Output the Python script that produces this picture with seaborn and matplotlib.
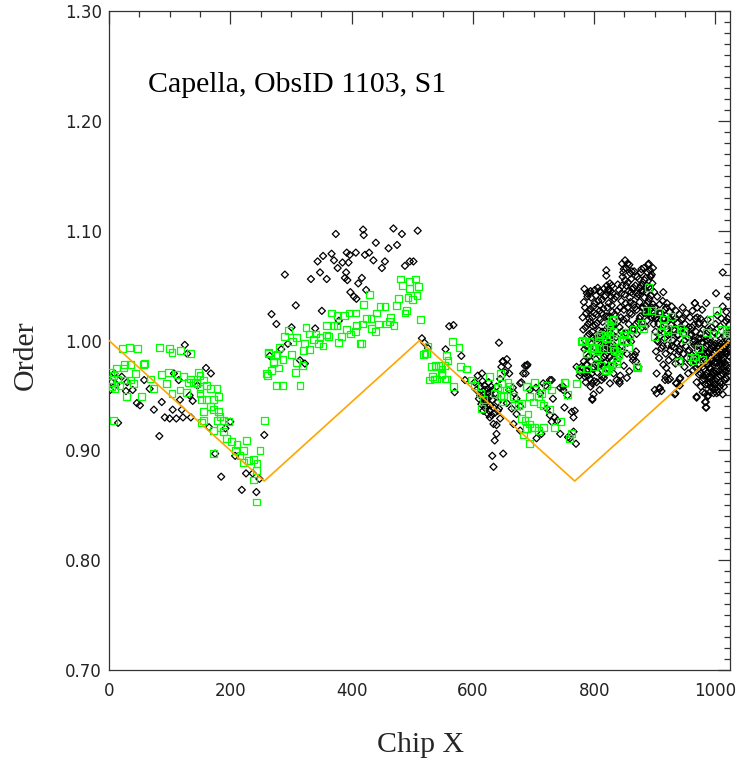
import numpy as np
import pandas as pd
import matplotlib
matplotlib.use("Agg")
import matplotlib.pyplot as plt
import seaborn as sns
from matplotlib.ticker import MultipleLocator, FormatStrFormatter

# ==========================================
# DATA
# ==========================================

# fold-over "expected" order curve
curve_x = [0, 256, 512, 768, 1024]
curve_y = [1.000, 0.872, 1.000, 0.872, 1.000]

# green squares, left node (0-260)
green_left = [
    (22, 0.993), (34, 0.994), (47, 0.993), (83, 0.994), (100, 0.993), (104, 0.989),
    (118, 0.991), (134, 0.988), (59, 0.979), (57, 0.978), (35, 0.978), (25, 0.978),
    (24, 0.975), (7, 0.968), (15, 0.965), (26, 0.964), (35, 0.964), (40, 0.961),
    (18, 0.959), (10, 0.956), (29, 0.949), (54, 0.949), (68, 0.965), (87, 0.969),
    (98, 0.971), (112, 0.969), (123, 0.967), (134, 0.965), (148, 0.971), (150, 0.968),
    (139, 0.962), (131, 0.962), (145, 0.961), (156, 0.964), (161, 0.959), (167, 0.956),
    (150, 0.956), (73, 0.956), (95, 0.961), (104, 0.952), (117, 0.955), (128, 0.953),
    (150, 0.952), (153, 0.946), (161, 0.946), (172, 0.946), (178, 0.956), (180, 0.949),
    (167, 0.940), (156, 0.935), (172, 0.937), (180, 0.935), (183, 0.931), (178, 0.927),
    (189, 0.927), (197, 0.926), (183, 0.921), (172, 0.918), (189, 0.917), (156, 0.927),
    (153, 0.925), (194, 0.911), (202, 0.908), (211, 0.905), (222, 0.900), (227, 0.909),
    (208, 0.900), (216, 0.895), (222, 0.889), (230, 0.891), (238, 0.892), (244, 0.888),
    (249, 0.900), (243, 0.882), (238, 0.873), (243, 0.853), (257, 0.927), (7, 0.927),
    (172, 0.897), (2, 0.962), (3, 0.971), (5, 0.958), (12, 0.975), (44, 0.970),
]

# green squares, rising branch (260-520)
green_mid = [
    (260, 0.970), (263, 0.988), (271, 0.981), (277, 0.987), (481, 1.056), (496, 1.054),
    (506, 1.056), (484, 1.050), (495, 1.047), (510, 1.049), (477, 1.038), (493, 1.039),
    (501, 1.037), (508, 1.041), (474, 1.032), (429, 1.042), (420, 1.033), (447, 1.031),
    (455, 1.031), (488, 1.025), (491, 1.027), (514, 1.019), (367, 1.025), (376, 1.023),
    (396, 1.025), (388, 1.023), (406, 1.025), (424, 1.020), (432, 1.020), (441, 1.025),
    (444, 1.015), (458, 1.015), (464, 1.021), (470, 1.014), (462, 1.017), (359, 1.014),
    (371, 1.014), (376, 1.014), (408, 1.014), (418, 1.015), (433, 1.011), (439, 1.008),
    (325, 1.012), (341, 1.006), (358, 1.005), (392, 1.010), (398, 1.006), (407, 1.008),
    (384, 1.004), (331, 1.006), (289, 1.004), (296, 1.009), (309, 1.003), (337, 1.001),
    (348, 1.003), (362, 1.004), (302, 0.999), (281, 0.994), (323, 0.997), (345, 0.997),
    (353, 0.995), (331, 0.992), (321, 0.991), (379, 0.998), (414, 0.997), (417, 0.997),
    (263, 0.989), (274, 0.986), (287, 0.983), (301, 0.987), (271, 0.980), (279, 0.975),
    (309, 0.980), (319, 0.977), (307, 0.971), (268, 0.973), (261, 0.968), (276, 0.959),
    (286, 0.959), (315, 0.959),
]

# green squares, falling branch (515-780)
green_fall = [
    (518, 0.987), (524, 0.988), (521, 0.988), (526, 0.995), (532, 0.976), (538, 0.977),
    (549, 0.974), (554, 0.977), (529, 0.964), (540, 0.965), (554, 0.965), (549, 0.970),
    (566, 0.999), (577, 0.994), (557, 0.986), (559, 0.982), (539, 0.976), (546, 0.977),
    (533, 0.967), (537, 0.965), (548, 0.969), (556, 0.965), (568, 0.958), (579, 0.976),
    (590, 0.974), (597, 0.964), (603, 0.959), (612, 0.952), (617, 0.946), (614, 0.938),
    (627, 0.967), (646, 0.970), (647, 0.961), (656, 0.955), (661, 0.958), (667, 0.949),
    (669, 0.941), (680, 0.943), (689, 0.958), (702, 0.962), (694, 0.949), (700, 0.944),
    (708, 0.949), (713, 0.952), (722, 0.959), (730, 0.955), (716, 0.941), (711, 0.943),
    (727, 0.937), (680, 0.929), (686, 0.927), (694, 0.924), (689, 0.920), (697, 0.921),
    (702, 0.921), (708, 0.918), (716, 0.921), (735, 0.921), (744, 0.926), (683, 0.914),
    (694, 0.906), (763, 0.915), (760, 0.911), (752, 0.962), (756, 0.951), (771, 0.961),
    (645, 0.949), (649, 0.944), (651, 0.950), (675, 0.941), (691, 0.933), (658, 0.962),
    (689, 0.958), (751, 0.962), (777, 0.974), (636, 0.952), (640, 0.957),
]

# green squares, right node (775-1024)
green_right = [
    (779, 0.999), (793, 0.999), (801, 0.994), (788, 0.988), (807, 1.004), (777, 0.974),
    (788, 0.974), (801, 0.976), (810, 0.977), (823, 0.974), (829, 0.977), (837, 0.979),
    (826, 1.014), (832, 1.019), (818, 1.005), (825, 1.003), (807, 0.999), (799, 0.994),
    (815, 0.993), (834, 0.991), (820, 0.973), (889, 1.048), (886, 1.027), (895, 1.027),
    (906, 1.026), (928, 1.022), (914, 1.019), (914, 1.014), (878, 1.016), (881, 1.011),
    (864, 1.010), (910, 1.008), (900, 1.004), (921, 1.003), (921, 1.011), (933, 1.010),
    (942, 1.011), (947, 1.008), (951, 1.001), (972, 0.993), (958, 0.985), (966, 0.985),
    (979, 0.983), (939, 0.981), (963, 0.982), (1002, 1.027), (991, 1.019), (985, 1.007),
    (996, 1.006), (1010, 1.010), (1018, 1.010), (851, 1.007), (848, 1.005), (859, 1.005),
    (853, 0.999), (832, 1.008), (829, 1.018), (823, 1.015), (826, 1.011), (811, 1.006),
    (820, 1.002), (837, 1.000), (845, 1.000), (856, 0.994), (842, 0.994), (832, 0.993),
    (837, 0.990), (841, 0.987), (809, 0.993), (804, 0.993), (804, 0.985), (796, 0.993),
    (793, 0.999), (785, 0.999), (781, 1.000), (788, 0.988), (819, 0.973), (837, 0.982),
    (870, 0.976), (776, 0.974), (1018, 1.006), (1022, 1.008), (871, 0.975), (818, 0.973),
]

# black diamonds, left node (0-270)
black_left = [
    (125, 0.996), (129, 0.988), (160, 0.975), (168, 0.970), (4, 0.962), (21, 0.967),
    (28, 0.954), (39, 0.955), (58, 0.964), (67, 0.956), (46, 0.943), (51, 0.941),
    (87, 0.944), (74, 0.937), (92, 0.930), (100, 0.929), (111, 0.929), (105, 0.937),
    (120, 0.937), (122, 0.930), (135, 0.930), (115, 0.964), (107, 0.970), (146, 0.959),
    (133, 0.950), (138, 0.945), (117, 0.946), (15, 0.925), (83, 0.913), (165, 0.921),
    (192, 0.920), (200, 0.926), (256, 0.914), (175, 0.897), (208, 0.895), (226, 0.879),
    (237, 0.879), (248, 0.874), (185, 0.876), (219, 0.864), (243, 0.862), (2, 0.955),
    (9, 0.970), (12, 0.960), (30, 0.962), (265, 0.986),
]

# black diamonds, rising branch (265-520)
black_mid = [
    (374, 1.097), (419, 1.101), (420, 1.096), (469, 1.102), (483, 1.097), (509, 1.100),
    (440, 1.089), (475, 1.087), (461, 1.084), (367, 1.079), (353, 1.077), (392, 1.080),
    (397, 1.078), (407, 1.080), (429, 1.080), (422, 1.078), (344, 1.072), (371, 1.073),
    (385, 1.071), (395, 1.071), (436, 1.073), (455, 1.072), (496, 1.072), (502, 1.072),
    (488, 1.068), (450, 1.066), (377, 1.066), (391, 1.062), (348, 1.062), (359, 1.056),
    (333, 1.056), (389, 1.057), (393, 1.055), (417, 1.057), (411, 1.052), (290, 1.060),
    (398, 1.044), (404, 1.040), (408, 1.038), (424, 1.046), (308, 1.032), (268, 1.024),
    (276, 1.015), (351, 1.027), (379, 1.018), (301, 1.012), (340, 1.011), (295, 0.997),
    (315, 0.982), (323, 0.979), (284, 0.992), (516, 1.002),
]

# black diamonds, falling branch (515-780)
black_fall = [
    (561, 1.013), (568, 1.014), (555, 0.992), (581, 0.986), (520, 0.998), (526, 0.993),
    (587, 0.964), (570, 0.953), (643, 0.998), (656, 0.983), (649, 0.981), (647, 0.976),
    (658, 0.977), (686, 0.977), (690, 0.978), (687, 0.970), (678, 0.961), (645, 0.965),
    (639, 0.958), (625, 0.956), (716, 0.961), (730, 0.964), (749, 0.958), (771, 0.976),
    (779, 0.976), (777, 0.971), (785, 0.970), (650, 0.981), (653, 0.971), (660, 0.970),
    (689, 0.977), (683, 0.970), (680, 0.962), (660, 0.955), (666, 0.957), (668, 0.952),
    (672, 0.947), (656, 0.943), (664, 0.938), (678, 0.940), (672, 0.933), (694, 0.955),
    (704, 0.957), (711, 0.952), (720, 0.959), (727, 0.964), (732, 0.947), (744, 0.957),
    (749, 0.955), (756, 0.950), (722, 0.938), (727, 0.932), (730, 0.926), (735, 0.930),
    (739, 0.927), (751, 0.939), (763, 0.935), (768, 0.936), (766, 0.930), (744, 0.915),
    (757, 0.912), (760, 0.911), (766, 0.917), (770, 0.906), (713, 0.915), (705, 0.911),
    (678, 0.918), (667, 0.924), (788, 0.973), (799, 0.976), (797, 0.947),
    # dense knot near x ~ 620
    (603, 0.962), (606, 0.955), (608, 0.968), (610, 0.947), (612, 0.958), (614, 0.942),
    (616, 0.963), (618, 0.951), (619, 0.959), (620, 0.955), (622, 0.945), (623, 0.941),
    (625, 0.952), (625, 0.933), (627, 0.936), (628, 0.949), (630, 0.958), (631, 0.932),
    (632, 0.946), (634, 0.939), (634, 0.924), (636, 0.909), (637, 0.952), (639, 0.923),
    (639, 0.915), (641, 0.944), (643, 0.938), (645, 0.929), (632, 0.895), (650, 0.897),
    (634, 0.885), (615, 0.970), (621, 0.938), (626, 0.962), (629, 0.941), (633, 0.955),
    (617, 0.936), (612, 0.950), (624, 0.947), (636, 0.934), (628, 0.930), (620, 0.948),
    (641, 0.936), (618, 0.943),
]

# black diamonds, right node (780-1024), first pass
black_right = [
    (781, 1.021), (783, 1.035), (784, 0.992), (786, 1.012), (787, 0.978), (788, 1.043),
    (789, 1.004), (790, 0.968), (791, 1.027), (792, 0.986), (793, 1.017), (794, 0.958),
    (795, 1.039), (796, 0.997), (797, 1.008), (798, 0.974), (799, 1.031), (800, 0.963),
    (801, 1.046), (802, 1.014), (803, 0.983), (804, 1.024), (805, 0.971), (806, 1.002),
    (807, 1.036), (808, 0.990), (809, 0.955), (810, 1.019), (811, 1.044), (812, 0.979),
    (813, 1.008), (814, 0.995), (815, 1.029), (816, 0.966), (817, 1.040), (818, 1.001),
    (819, 0.987), (820, 1.022), (821, 1.050), (822, 0.975), (823, 1.012), (824, 1.034),
    (825, 0.993), (826, 0.961), (827, 1.045), (828, 1.017), (829, 0.982), (830, 1.026),
    (831, 1.005), (832, 0.970), (833, 1.038), (834, 0.989), (785, 1.000), (790, 1.015),
    (795, 0.981), (800, 1.025), (805, 0.990), (810, 1.032), (815, 0.976), (820, 1.010),
    (825, 1.021), (830, 0.997), (784, 1.047), (792, 1.006), (799, 0.951), (806, 1.048),
    (813, 0.967), (819, 1.041), (826, 1.009), (833, 0.978), (788, 0.972), (797, 1.021),
    (803, 1.041), (812, 1.025), (822, 0.994), (829, 1.032), (786, 0.962), (794, 1.029),
    (808, 1.009), (817, 0.985), (824, 1.047), (831, 1.014), (797, 0.946), (797, 0.961),
    (812, 0.964), (837, 0.964), (842, 0.963), (776, 0.968), (785, 0.967), (820, 1.064),
    (820, 1.059), (826, 1.052), (829, 1.050), (823, 1.046), (792, 1.043),
    (836, 1.003), (838, 1.027), (840, 0.984), (841, 1.046), (842, 1.012), (843, 0.968),
    (845, 1.036), (846, 0.995), (847, 1.058), (848, 1.019), (849, 0.977), (850, 1.042),
    (851, 1.073), (852, 1.007), (853, 1.066), (854, 0.988), (855, 1.030), (856, 1.053),
    (857, 1.015), (858, 0.972), (859, 1.039), (860, 1.061), (861, 0.999), (862, 1.024),
    (863, 1.047), (864, 0.982), (865, 1.033), (866, 1.010), (868, 1.050), (869, 0.990),
    (870, 1.028), (871, 1.040), (872, 1.017), (873, 0.976), (874, 1.056), (875, 1.035),
    (876, 1.022), (877, 1.062), (878, 1.045), (879, 1.012), (880, 1.051), (881, 1.030),
    (882, 1.066), (883, 1.039), (884, 1.025), (885, 1.057), (886, 1.044), (887, 1.018),
    (888, 1.062), (889, 1.035), (890, 1.070), (891, 1.049), (892, 1.028), (893, 1.058),
    (894, 1.041), (895, 1.021), (896, 1.052), (897, 1.033), (898, 1.015), (899, 1.044),
    (839, 1.051), (844, 1.021), (848, 1.062), (852, 1.034), (857, 1.003), (861, 1.044),
    (866, 1.063), (870, 1.006), (876, 1.048), (885, 1.013), (890, 1.024), (895, 1.060),
    (842, 0.961), (854, 0.966), (846, 1.070), (858, 1.069), (862, 1.063), (878, 1.065),
    (889, 1.069), (892, 1.064), (893, 1.059), (853, 1.050), (845, 1.043), (870, 1.043),
    (914, 1.044), (867, 0.987), (864, 0.985), (869, 0.981),
    (900, 1.030), (901, 1.008), (902, 0.990), (903, 1.021), (904, 1.040), (905, 0.999),
    (906, 1.015), (907, 0.984), (908, 1.033), (909, 1.004), (910, 1.025), (911, 0.993),
    (912, 1.012), (913, 1.036), (914, 0.978), (915, 1.019), (916, 1.002), (917, 1.028),
    (918, 0.988), (919, 1.010), (920, 1.034), (921, 0.996), (922, 1.018), (923, 0.982),
    (924, 1.026), (925, 1.006), (926, 0.991), (927, 1.014), (928, 1.031), (929, 0.985),
    (930, 1.000), (931, 1.022), (932, 0.994), (933, 1.009), (934, 0.979), (935, 1.027),
    (936, 0.998), (937, 1.016), (938, 0.987), (939, 1.005), (940, 1.024), (941, 0.992),
    (942, 1.011), (943, 0.981), (944, 1.019), (945, 0.997), (946, 1.030), (947, 0.988),
    (948, 1.006), (949, 0.976), (950, 1.015), (951, 0.995), (952, 1.025), (953, 0.984),
    (954, 1.003), (955, 0.970), (956, 1.012), (957, 0.991), (958, 1.021), (959, 0.980),
    (903, 0.970), (900, 0.955), (908, 0.957), (918, 0.967), (922, 0.964), (925, 0.965),
    (942, 0.966), (936, 0.961), (934, 0.952), (919, 0.975), (922, 0.970), (917, 0.964),
    (941, 0.965), (935, 0.961), (908, 0.956), (903, 0.952), (911, 0.954), (933, 0.951),
    (941, 0.959),
    (960, 1.005), (961, 0.987), (962, 1.027), (963, 0.973), (964, 1.014), (965, 0.996),
    (966, 1.034), (967, 0.981), (968, 1.008), (969, 0.962), (970, 1.021), (971, 0.991),
    (972, 1.002), (973, 0.969), (974, 1.016), (975, 0.985), (976, 0.958), (977, 0.998),
    (978, 1.028), (979, 0.976), (980, 1.010), (981, 0.965), (982, 0.993), (983, 0.952),
    (984, 1.004), (985, 0.981), (986, 0.970), (987, 1.019), (988, 0.960), (989, 0.989),
    (990, 0.975), (991, 1.001), (992, 0.966), (993, 0.984), (994, 1.012), (995, 0.956),
    (996, 0.994), (997, 0.971), (998, 0.980), (999, 1.007), (1000, 0.963), (1001, 0.990),
    (1002, 0.974), (1003, 1.023), (1004, 0.985), (1005, 0.967), (1006, 0.998), (1007, 0.958),
    (1008, 1.013), (1009, 0.979), (1010, 0.992), (1011, 0.970), (1012, 1.031), (1013, 0.984),
    (1014, 1.004), (1015, 0.964), (1016, 0.995), (1017, 1.018), (1018, 0.977), (1019, 0.988),
    (1020, 1.008), (1021, 0.972), (1022, 0.999), (1023, 1.014),
    (963, 0.999), (967, 1.020), (971, 0.978), (975, 1.006), (978, 0.964), (982, 1.015),
    (985, 0.995), (988, 0.978), (992, 0.998), (995, 0.982), (998, 0.960), (1001, 0.972),
    (1004, 0.993), (1007, 0.981), (1010, 0.960), (1013, 0.994), (1016, 0.978), (1019, 1.000),
    (1022, 0.986), (977, 0.986), (981, 0.974), (986, 1.000), (990, 0.962), (994, 0.969),
    (997, 0.989), (1000, 0.997), (1003, 0.980), (1006, 0.987), (1009, 0.968), (1012, 0.982),
    (1015, 0.989), (1018, 1.026), (1021, 1.040), (1023, 0.993), (979, 0.953), (987, 0.949),
    (1003, 0.955), (1012, 0.951), (1017, 0.966), (984, 0.939), (983, 0.944), (969, 0.948),
    (988, 0.950), (1002, 0.952), (1012, 1.062), (1001, 1.043), (985, 1.034), (966, 1.034),
    (969, 0.949), (984, 0.944), (985, 0.939), (991, 0.953), (1005, 0.953), (999, 0.956),
]

# black diamonds, right node, second pass over the dense core
black_core = [
    (782, 1.010), (783, 0.981), (785, 1.030), (787, 0.995), (789, 1.040), (790, 0.985),
    (792, 1.020), (794, 1.045), (796, 0.970), (798, 1.013), (800, 0.994), (801, 1.034),
    (803, 1.002), (805, 1.016), (807, 0.978), (809, 1.027), (811, 0.996), (813, 1.037),
    (815, 1.003), (816, 1.047), (818, 0.980), (820, 0.992), (822, 1.030), (824, 1.003),
    (826, 0.985), (828, 1.040), (830, 1.012), (832, 0.988), (834, 1.024), (782, 0.975),
    (787, 1.025), (793, 0.965), (798, 1.002), (804, 0.962), (809, 1.045), (814, 1.017),
    (819, 0.970), (823, 1.022), (827, 0.995), (831, 1.043),
    (836, 1.040), (838, 0.993), (840, 1.018), (843, 1.030), (845, 1.008), (847, 0.990),
    (849, 1.028), (851, 1.055), (853, 1.020), (855, 0.998), (857, 1.045), (859, 1.025),
    (861, 1.056), (863, 1.010), (865, 1.048), (867, 1.030), (869, 1.015), (871, 1.058),
    (873, 1.042), (875, 1.020), (877, 1.050), (879, 1.030), (881, 1.045), (883, 1.055),
    (885, 1.032), (887, 1.050), (889, 1.025), (891, 1.038), (893, 1.047), (895, 1.030),
    (897, 1.066), (899, 1.022), (849, 1.065), (855, 1.070), (860, 1.035), (846, 1.050),
    (901, 1.020), (904, 1.000), (907, 1.025), (910, 1.010), (913, 0.995), (916, 1.020),
    (919, 1.030), (922, 1.005), (925, 1.020), (928, 0.995), (931, 1.010), (934, 1.020),
    (937, 1.005), (940, 0.990), (943, 1.010), (946, 1.020), (949, 1.000), (952, 1.010),
    (955, 0.990), (958, 1.005),
    (961, 1.012), (964, 0.985), (966, 1.000), (968, 0.975), (970, 0.995), (972, 1.015),
    (974, 0.978), (976, 1.002), (978, 0.990), (980, 0.968), (982, 0.983), (984, 0.960),
    (986, 0.988), (988, 1.008), (990, 0.985), (992, 0.975), (994, 0.995), (996, 0.963),
    (998, 0.995), (1000, 0.980), (1002, 0.965), (1004, 1.005), (1006, 0.972), (1008, 0.990),
    (1010, 0.978), (1012, 0.998), (1014, 0.972), (1016, 1.005), (1018, 0.965), (1020, 0.990),
    (1022, 0.975), (1023, 1.005), (970, 1.030), (975, 1.020), (980, 0.998), (985, 0.968),
    (990, 1.010), (995, 0.972), (1000, 1.015), (1005, 0.983), (1010, 1.020), (1015, 0.980),
    (1020, 1.020), (1024, 0.985), (983, 0.960), (993, 0.958), (1008, 0.962), (1014, 0.958),
    (997, 0.952), (981, 0.988), (987, 0.978), (993, 0.992), (999, 0.970), (1005, 0.995),
    (1011, 0.987), (1017, 0.972), (1021, 0.996), (976, 0.970), (989, 0.967), (1001, 0.984),
    (1013, 0.976),
]

title_text = "Capella, ObsID 1103, S1"

# ==========================================
# TABLES
# ==========================================

green_df = pd.DataFrame(green_left + green_mid + green_fall + green_right,
                        columns=["chipx", "order"])
black_df = pd.DataFrame(black_left + black_mid + black_fall + black_right + black_core,
                        columns=["chipx", "order"])
curve_df = pd.DataFrame({"chipx": curve_x, "order": curve_y})

# ==========================================
# PLOT
# ==========================================

sns.set_style("white")
plt.rcParams["font.family"] = ["DejaVu Sans"]

fig, ax = plt.subplots(figsize=(7.43, 7.61), dpi=100)
fig.subplots_adjust(left=0.1467, right=0.9825, top=0.9855, bottom=0.1196)

sns.scatterplot(data=black_df, x="chipx", y="order", ax=ax, marker="D", s=13,
                facecolor="none", edgecolor="black", linewidth=0.9, zorder=2)
sns.scatterplot(data=green_df, x="chipx", y="order", ax=ax, marker="s", s=24,
                facecolor="none", edgecolor="#00ff00", linewidth=0.9, zorder=3)
sns.lineplot(data=curve_df, x="chipx", y="order", ax=ax, color="#ffa500",
             linewidth=1.2, zorder=4)

ax.set_xlim(0, 1024)
ax.set_ylim(0.70, 1.30)
ax.xaxis.set_major_locator(MultipleLocator(200))
ax.xaxis.set_minor_locator(MultipleLocator(50))
ax.yaxis.set_major_locator(MultipleLocator(0.1))
ax.yaxis.set_minor_locator(MultipleLocator(0.01))
ax.yaxis.set_major_formatter(FormatStrFormatter("%.2f"))

ax.tick_params(which="both", direction="in", top=True, right=True,
               color="#333333", width=0.9, labelsize=12, labelcolor="#222222")
ax.tick_params(which="major", length=9)
ax.tick_params(which="minor", length=4.5)
ax.tick_params(axis="x", pad=9)
ax.tick_params(axis="y", pad=5)

for sp in ax.spines.values():
    sp.set_color("#333333")
    sp.set_linewidth(0.9)

ax.set_xlabel("")
ax.set_ylabel("")

serif = ["Liberation Serif", "DejaVu Serif"]
ax.text(64, 1.226, title_text, family=serif, fontsize=21.5, ha="left",
        va="baseline", color="black")
fig.text(421 / 743, 1 - 745 / 761, "Chip X", family=serif, fontsize=21.5,
         ha="center", va="center")
fig.text(26 / 743, 1 - 355 / 761, "Order", family=serif, fontsize=21.5,
         rotation=90, ha="center", va="center")

fig.savefig("out.png", dpi=100)
